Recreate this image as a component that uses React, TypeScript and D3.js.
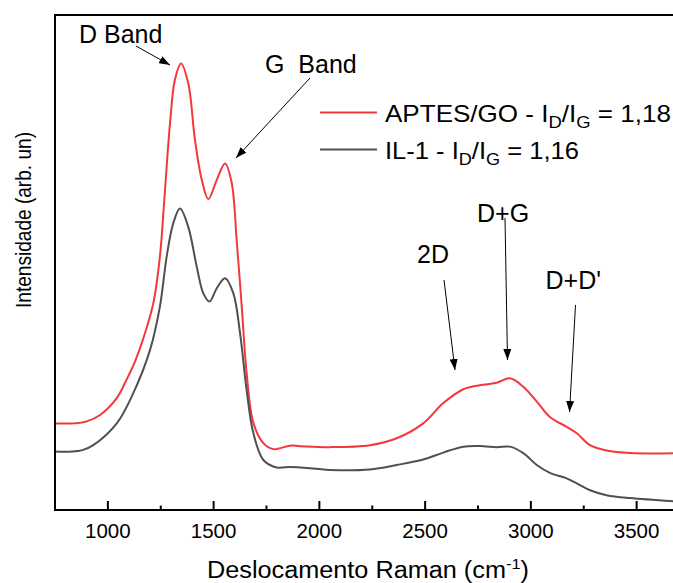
import React from "react";
import * as d3 from "d3";

const redX = [750, 840, 900, 963, 1042, 1089, 1130, 1167, 1215, 1246, 1270, 1294, 1317, 1346, 1380, 1412, 1444, 1475, 1515, 1554, 1585, 1609, 1633, 1656, 1688, 1735, 1782, 1861, 1908, 2050, 2239, 2366, 2491, 2586, 2681, 2775, 2838, 2901, 2964, 3028, 3090, 3169, 3217, 3280, 3358, 3469, 3700];
const redY = [17.5, 17.5, 17.9, 19.2, 22.6, 26.4, 30.2, 34.6, 41.8, 51.2, 64.6, 78.2, 86.9, 90.2, 86.2, 74.7, 66.7, 62.8, 66.7, 70.0, 66.2, 54.5, 41.1, 27.7, 17.6, 13.5, 12.3, 13.0, 12.9, 12.7, 13.1, 14.5, 17.5, 21.6, 24.4, 25.3, 25.7, 26.6, 24.9, 21.9, 18.8, 16.8, 15.5, 13.1, 12.0, 11.5, 11.5];

const grayX = [750, 830, 880, 931, 1042, 1120, 1199, 1246, 1278, 1309, 1341, 1380, 1420, 1451, 1480, 1515, 1554, 1593, 1625, 1656, 1688, 1735, 1798, 1861, 1908, 2050, 2239, 2366, 2491, 2586, 2681, 2775, 2838, 2901, 2964, 3028, 3090, 3169, 3217, 3280, 3358, 3469, 3700];
const grayY = [11.8, 11.8, 12.1, 13.1, 17.5, 23.6, 32.3, 41.1, 51.2, 57.9, 60.9, 57.2, 49.2, 43.8, 42.1, 44.8, 46.8, 43.8, 35.7, 24.2, 15.5, 10.1, 8.6, 8.7, 8.6, 8.1, 8.2, 9.1, 10.2, 11.6, 12.8, 12.9, 12.7, 12.8, 11.5, 9.1, 7.5, 6.4, 5.4, 4.0, 3.0, 2.4, 1.7];

const majorTicks = [1000, 1500, 2000, 2500, 3000, 3500];
const minorTicks = [1250, 1750, 2250, 2750, 3250];

const seriesNames = ["APTES/GO", "IL-1"];
const ratios = ["1,18", "1,16"];
const legendLengths = [286, 194];

const FONT = "'Liberation Sans', Arial, Helvetica, sans-serif";

export default function App() {
  const W = 673, H = 583;
  const left = 55, top = 15, bottom = 510;
  const x = d3.scaleLinear().domain([750, 3700]).range([left, left + 2950 * 0.2115]);
  const y = d3.scaleLinear().domain([0, 100]).range([bottom, top]);
  const line = d3
    .line<[number, number]>()
    .x((d) => x(d[0]))
    .y((d) => y(d[1]))
    .curve(d3.curveCatmullRom.alpha(0.5));
  const red = line(redX.map((v, i) => [v, redY[i]] as [number, number])) || "";
  const gray = line(grayX.map((v, i) => [v, grayY[i]] as [number, number])) || "";

  const arrows = [
    { x1: 136, y1: 46, x2: 170, y2: 65 },
    { x1: 310, y1: 78, x2: 236, y2: 158 },
    { x1: 444, y1: 280, x2: 455, y2: 370 },
    { x1: 505, y1: 218, x2: 507.5, y2: 360 },
    { x1: 575.5, y1: 305, x2: 569.5, y2: 412 },
  ];

  return (
    <svg
      width={W}
      height={H}
      style={{ position: "fixed", left: 0, top: 0, background: "#fff" }}
      fontFamily={FONT}
    >
      <defs>
        <clipPath id="plot">
          <rect x={left} y={top} width={W - left} height={bottom - top} />
        </clipPath>
        <marker id="arr" markerUnits="userSpaceOnUse" markerWidth={12} markerHeight={8} refX={11} refY={4} orient="auto">
          <path d="M0,0 L11,4 L0,8 z" fill="#000" />
        </marker>
      </defs>
      <g clipPath="url(#plot)">
        <path d={red} fill="none" stroke="#f2383d" strokeWidth={2} />
        <path d={gray} fill="none" stroke="#505050" strokeWidth={2} />
      </g>
      {/* frame */}
      <line x1={left} x2={W} y1={top} y2={top} stroke="#000" strokeWidth={2} />
      <line x1={left} x2={left} y1={top - 1} y2={bottom + 1} stroke="#000" strokeWidth={2} />
      <line x1={left} x2={W} y1={bottom} y2={bottom} stroke="#000" strokeWidth={2.2} />
      {majorTicks.map((t) => (
        <g key={t}>
          <line x1={x(t)} x2={x(t)} y1={bottom} y2={bottom - 9} stroke="#000" strokeWidth={2} />
          <text x={x(t)} y={537.5} fontSize={20.5} textAnchor="middle" fill="#000">
            {t}
          </text>
        </g>
      ))}
      {minorTicks.map((t) => (
        <line key={t} x1={x(t)} x2={x(t)} y1={bottom} y2={bottom - 4.5} stroke="#000" strokeWidth={2} />
      ))}
      {/* axis titles */}
      <text x={207} y={577.5} fontSize={23} textLength={322} lengthAdjust="spacingAndGlyphs" fill="#000">
        Deslocamento Raman (cm<tspan dy={-9} fontSize={15}>-1</tspan><tspan dy={9}>)</tspan>
      </text>
      <text
        transform="translate(31,220) rotate(-90)"
        fontSize={22}
        textAnchor="middle"
        textLength={176}
        lengthAdjust="spacingAndGlyphs"
        fill="#000"
      >
        Intensidade (arb. un)
      </text>
      {/* legend */}
      <line x1={320} x2={377} y1={112.5} y2={112.5} stroke="#f2383d" strokeWidth={2} />
      <line x1={320} x2={377} y1={149.5} y2={149.5} stroke="#505050" strokeWidth={2} />
      {seriesNames.map((n, i) => (
        <text
          key={n}
          x={385}
          y={121.5 + i * 37.5}
          fontSize={24}
          textLength={legendLengths[i]}
          lengthAdjust="spacingAndGlyphs"
          fill="#000"
        >
          {n} - I<tspan dy={6} fontSize={17}>D</tspan>
          <tspan dy={-6}>/I</tspan>
          <tspan dy={6} fontSize={17}>G</tspan>
          <tspan dy={-6}>{" = " + ratios[i]}</tspan>
        </text>
      ))}
      {/* annotations */}
      <text x={79} y={43} fontSize={25} fill="#000">D Band</text>
      <text x={265} y={72.5} fontSize={25} fill="#000" style={{ whiteSpace: "pre" }}>{"G  Band"}</text>
      <text x={417} y={262.5} fontSize={25} fill="#000">2D</text>
      <text x={477} y={221.5} fontSize={25} fill="#000">D+G</text>
      <text x={545.5} y={288.5} fontSize={25} fill="#000">D+D'</text>
      {arrows.map((a, i) => (
        <line key={i} x1={a.x1} y1={a.y1} x2={a.x2} y2={a.y2} stroke="#000" strokeWidth={1} markerEnd="url(#arr)" />
      ))}
    </svg>
  );
}
